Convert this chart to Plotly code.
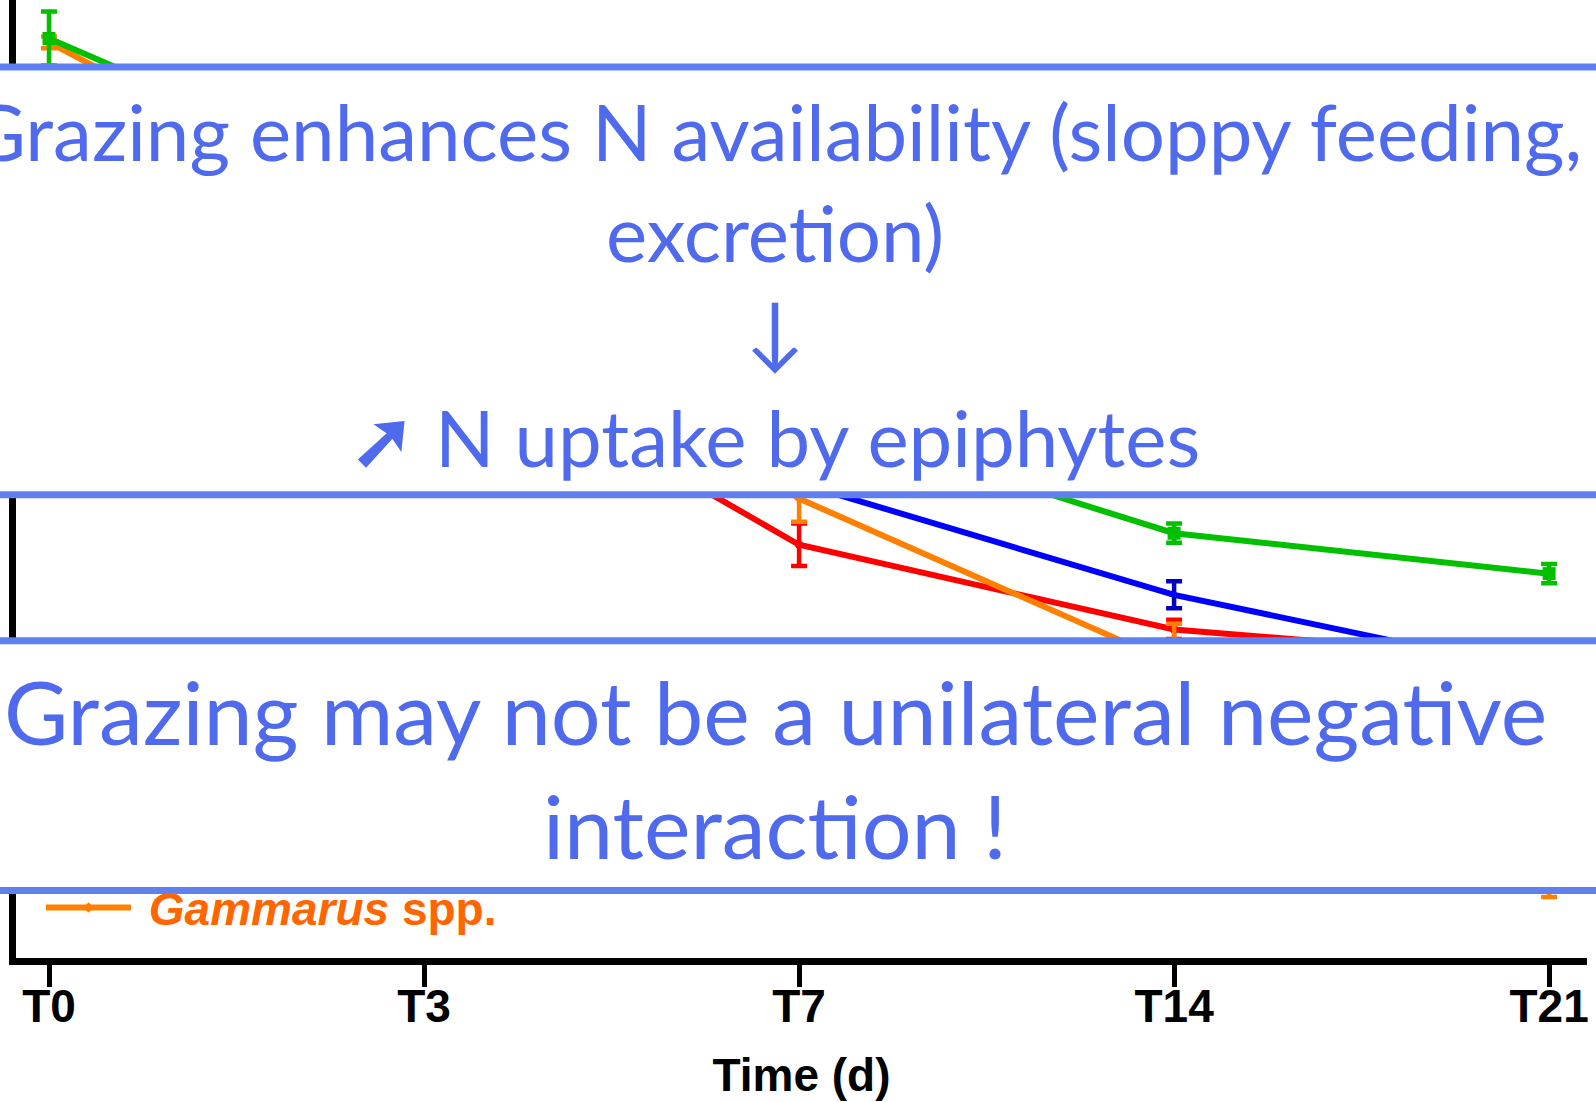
import plotly.graph_objects as go

# sampling days
days = ['T0', 'T3', 'T7', 'T14', 'T21']

# series means and standard errors
green_y = [4.80, 3.96, 2.84, 2.23, 2.02]
green_err = [0.14, 0.05, 0.05, 0.05, 0.05]
orange_y = [4.78, 3.75, 2.41, 1.55, 0.43]
orange_err = [0.03, 0.08, 0.12, 0.21, 0.09]
red_y = [4.38, 3.29, 2.17, 1.73, 1.57]
red_err = [0.05, 0.06, 0.11, 0.05, 0.04]
blue_y = [4.48, 3.44, 2.49, 1.91, 1.50]
blue_err = [0.05, 0.06, 0.04, 0.07, 0.05]

box_blue = 'rgb(96,128,240)'
text_blue = 'rgb(80,106,238)'
txt_font = 'Lato, Open Sans, sans-serif'
bold_font = 'Liberation Sans, Arial, sans-serif'

L, R, B = 16, 9, 143.5
W = 1596 - L - R
H = 1102 - B


def series(y, err, color, err_color, name, symbol, size, legend=False):
    return go.Scatter(
        x=days, y=y, name=name, mode='lines+markers',
        line=dict(color=color, width=6),
        marker=dict(color=color, symbol=symbol, size=size),
        error_y=dict(type='data', array=err, visible=True,
                     color=err_color, thickness=4.5, width=8),
        showlegend=legend,
    )


fig = go.Figure()
fig.add_trace(series(red_y, red_err, '#FF0000', '#FF0000', 'Idotea spp.', 'circle', 8))
fig.add_trace(series(orange_y, orange_err, '#FF8000', '#FF8000',
                     '\u00a0<i>Gammarus</i> spp.', 'diamond', 8, legend=True))
fig.add_trace(series(blue_y, blue_err, '#0000FF', '#0000C0', 'Gastropods', 'triangle-up', 9))
fig.add_trace(series(green_y, green_err, '#00C000', '#00C000', 'Control', 'square', 13))


def py(p):
    return (H - p) / H


# overlay boxes
for top, bot in [(67, 495), (641, 891)]:
    fig.add_shape(type='rect', xref='paper', yref='paper',
                  x0=-0.05, x1=1.05, y0=py(bot), y1=py(top),
                  fillcolor='white', line=dict(color=box_blue, width=7),
                  layer='above')

xc = (775 - L) / W
lines = [
    ('Grazing enhances N availability (sloppy feeding,', 131, 78),
    ('excretion)', 232, 78),
    ('\u2193', 329, 80),
    ('<b>\u279a</b> N uptake by epiphytes', 437, 78),
    ('Grazing may not be a unilateral negative', 711, 88),
    ('interaction !', 825, 88),
]
for txt, p, sz in lines:
    fig.add_annotation(text=txt, xref='paper', yref='paper', x=xc, y=py(p),
                       xanchor='center', yanchor='middle', showarrow=False,
                       font=dict(family=txt_font, size=sz, color=text_blue))

fig.update_layout(
    width=1596, height=1102,
    margin=dict(l=L, r=R, t=0, b=B),
    plot_bgcolor='white', paper_bgcolor='white',
    legend=dict(x=(41 - L) / W, y=py(908), xanchor='left', yanchor='middle',
                bgcolor='rgba(0,0,0,0)', itemwidth=85,
                font=dict(family=bold_font, size=46, color='#FF6600', weight='bold')),
)
fig.update_xaxes(
    type='category', categoryorder='array', categoryarray=days,
    range=[-0.088, 4.101], showline=True, linecolor='black', linewidth=7,
    ticks='outside', ticklen=22, tickwidth=5, tickcolor='black',
    ticklabelstandoff=-20,
    showgrid=False, zeroline=False,
    tickfont=dict(family=bold_font, size=46, color='black', weight='bold'),
    title=dict(text='Time (d)', standoff=30,
               font=dict(family=bold_font, size=46, color='black', weight='bold')),
)
fig.update_yaxes(
    range=[0.0234, 5], showline=True, linecolor='black', linewidth=7,
    showticklabels=False, ticks='', showgrid=False, zeroline=False,
)

fig.write_html('out.html', config={'displayModeBar': False},
               post_script="document.body.style.margin='0';document.body.style.overflow='hidden';")
